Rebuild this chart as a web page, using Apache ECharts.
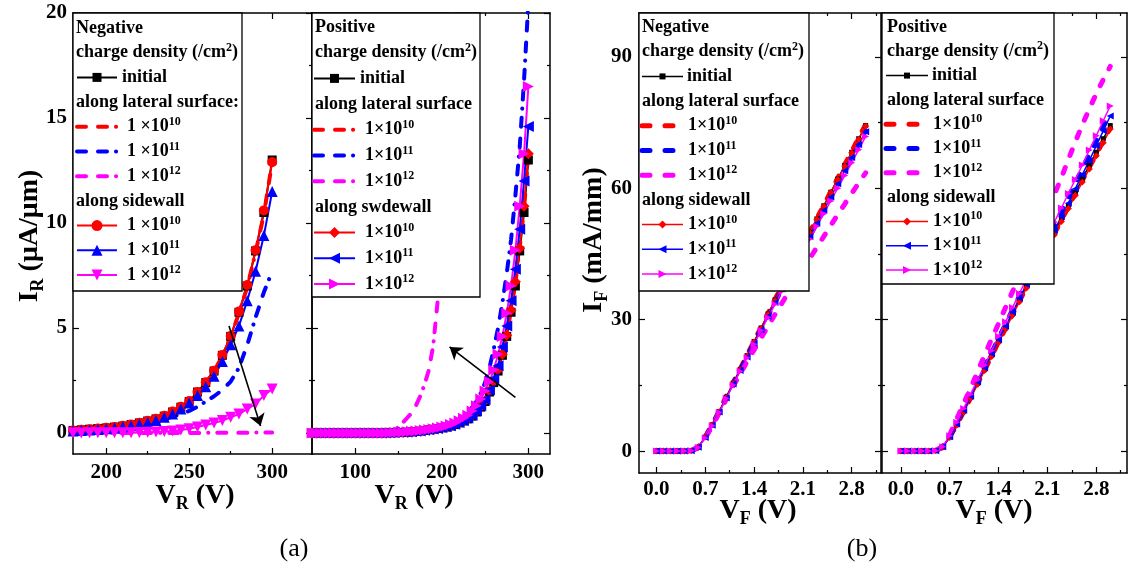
<!DOCTYPE html>
<html><head><meta charset="utf-8">
<script src="https://cdn.jsdelivr.net/npm/echarts@6/dist/echarts.min.js"></script>
<style>html,body{margin:0;padding:0;background:#fff}#c{width:1128px;height:571px}</style>
</head><body><div id="c"></div>
<script>
// ---------------- DATA ----------------
const vrNeg = [180,185,190,195,200,205,210,215,220,225,230,235,240,245,250,255,260,265,270,275,280,285,290,295,300];
const vrPos = [50,55,60,65,70,75,80,85,90,95,100,105,110,115,120,125,130,135,140,145,150,155,160,165,170,175,180,185,190,195,200,205,210,215,220,225,230,235,240,245,250,255,260,265,270,275,280,285,290,295,300];
const vf = [0,0.1,0.2,0.3,0.4,0.5,0.6,0.7,0.8,0.9,1.0,1.1,1.2,1.3,1.4,1.5,1.6,1.7,1.8,1.9,2.0,2.1,2.2,2.3,2.4,2.5,2.6,2.7,2.8,2.9,3.0];

// (a) negative charge, reverse
const aNegInit   = [0.12,0.15,0.18,0.21,0.24,0.28,0.33,0.40,0.48,0.57,0.67,0.80,1.00,1.23,1.50,1.95,2.40,2.95,3.70,4.60,5.75,7.00,8.67,10.5,13.0];
const aNegLat10  = [0.12,0.15,0.18,0.21,0.24,0.28,0.33,0.40,0.48,0.57,0.67,0.80,1.00,1.22,1.49,1.93,2.38,2.93,3.67,4.57,5.70,6.95,8.60,10.4,12.9];
const aNegLat11  = [0.08,0.10,0.12,0.14,0.17,0.20,0.25,0.30,0.36,0.45,0.55,0.65,0.78,0.90,1.05,1.25,1.50,1.75,2.05,2.45,3.10,4.20,5.50,6.70,7.70];
const aNegLat12  = [0,0,0,0,0,0,0,0,0,0,0,0,0,0,0,0,0.01,0.01,0.01,0.01,0.01,0.01,0.02,0.02,0.02];
const aNegSide10 = [0.12,0.15,0.18,0.21,0.25,0.29,0.34,0.41,0.49,0.58,0.68,0.82,1.02,1.25,1.52,1.95,2.42,2.97,3.72,4.62,5.78,7.05,8.70,10.6,12.9];
const aNegSide11 = [0.10,0.12,0.14,0.17,0.20,0.24,0.30,0.35,0.42,0.50,0.60,0.75,0.90,1.14,1.43,1.78,2.20,2.70,3.40,4.20,5.10,6.30,7.70,9.40,11.5];
const aNegSide12 = [0.00,0.00,0.01,0.01,0.01,0.01,0.01,0.01,0.02,0.03,0.05,0.07,0.10,0.14,0.20,0.29,0.38,0.48,0.59,0.75,0.90,1.14,1.38,1.78,2.10];

// (a) positive charge, reverse
const aPosInit   = [0,0,0,0,0,0,0,0,0,0, 0,0,0,0,0,0,0,0,0.01,0.01, 0.02,0.03,0.04,0.05,0.07,0.09, 0.12,0.15,0.18,0.21,0.24,0.28,0.33,0.40,0.48,0.57,0.67,0.80,1.00,1.23,1.50,1.95,2.40,2.95,3.70,4.60,5.75,7.00,8.67,10.5,13.0];
const aPosLat10  = [0,0,0,0,0,0,0,0,0,0, 0,0,0,0,0,0,0,0,0.01,0.01, 0.02,0.03,0.04,0.06,0.08,0.10, 0.13,0.16,0.19,0.22,0.26,0.30,0.35,0.42,0.50,0.60,0.71,0.85,1.05,1.30,1.60,2.02,2.50,3.05,3.80,4.70,5.85,7.15,8.80,10.7,13.2];
const aPosLat11  = [0,0,0,0,0,0,0,0,0,0, 0,0,0,0,0,0,0,0,0,0, 0,0.05,0.07,0.09,0.12,0.15, 0.18,0.20,0.23,0.27,0.30,0.37,0.45,0.55,0.65,0.80,1.00,1.22,1.50,1.90,2.40,3.10,4.00,5.00,6.20,7.60,9.20,11.3,13.6,16.8,20.5];
const aPosLat12  = [0,0,0,0,0,0,0,0,0,0, 0,0,0,0,0,0,0,0,0,0.08, 0.30,0.50,0.72,0.95,1.30,1.75, 2.30,3.00,4.15,6.20,9.50,13.5,18.0,23.0];
const aPosSide10 = [0,0,0,0,0,0,0,0,0,0, 0,0,0,0,0,0,0,0,0.01,0.01, 0.02,0.03,0.04,0.05,0.07,0.09, 0.12,0.15,0.18,0.21,0.24,0.28,0.33,0.40,0.48,0.57,0.68,0.82,1.02,1.26,1.55,2.00,2.45,3.00,3.75,4.65,5.85,7.20,8.80,10.8,13.3];
const aPosSide11 = [0,0,0,0,0,0,0,0,0,0, 0,0,0,0,0,0,0,0,0.01,0.02, 0.03,0.04,0.05,0.06,0.08,0.10, 0.13,0.16,0.19,0.22,0.26,0.30,0.35,0.42,0.50,0.60,0.71,0.85,1.05,1.30,1.60,2.05,2.60,3.20,4.10,5.10,6.30,7.80,9.70,12.0,14.6];
const aPosSide12 = [0,0,0,0,0,0,0,0,0,0, 0,0,0,0,0,0,0,0,0.01,0.02, 0.03,0.04,0.06,0.08,0.10,0.12, 0.14,0.17,0.20,0.24,0.28,0.33,0.40,0.48,0.58,0.70,0.85,1.05,1.30,1.62,2.00,2.45,3.00,3.75,4.60,5.70,7.00,8.70,10.8,13.3,16.5];

// (b) negative charge, forward
const bNegInit   = [0,0,0,0,0,0.1,0.9,3.2,6.0,9.0,12.3,15.5,18.6,21.8,25.0,28.1,31.3,34.5,37.6,40.7,43.8,46.8,49.9,53.0,56.0,59.1,62.1,65.2,68.2,71.3,74.3];
const bNegLat10  = [0,0,0,0,0,0.1,0.9,3.2,6.1,9.1,12.4,15.6,18.7,21.9,25.1,28.2,31.4,34.6,37.7,40.8,43.9,46.9,50.0,53.1,56.1,59.2,62.3,65.4,68.4,71.5,74.5];
const bNegLat11  = [0,0,0,0,0,0.1,0.8,3.1,5.9,8.9,12.1,15.3,18.4,21.5,24.7,27.8,30.9,34.0,37.1,40.1,43.1,46.1,49.1,52.1,55.1,58.1,61.1,64.1,67.1,70.1,73.1];
const bNegLat12  = [0,0,0,0,0,0.1,0.8,3.0,5.7,8.7,11.8,14.8,17.6,20.4,23.1,25.8,28.5,31.2,33.8,36.4,39.0,41.5,44.0,46.5,49.0,51.5,54.0,56.4,58.8,61.2,63.5];
const bNegSide10 = [0,0,0,0,0,0.1,0.9,3.2,6.0,9.0,12.2,15.4,18.5,21.7,24.9,28.0,31.2,34.4,37.5,40.6,43.7,46.7,49.8,52.9,55.9,59.0,62.0,65.1,68.1,71.2,74.2];
const bNegSide11 = [0,0,0,0,0,0.1,0.9,3.1,5.9,8.9,12.1,15.3,18.4,21.5,24.6,27.7,30.8,33.9,37.0,40.0,43.0,46.0,49.0,52.0,55.0,58.0,61.0,64.0,67.0,70.0,72.9];
const bNegSide12 = [0,0,0,0,0,0.1,0.8,3.0,5.8,8.8,12.0,15.1,18.2,21.3,24.4,27.5,30.5,33.5,36.5,39.5,42.5,45.5,48.4,51.3,54.2,57.1,60.0,62.9,65.8,68.8,71.8];

// (b) positive charge, forward
const bPosInit   = [0,0,0,0,0,0.1,0.9,3.2,6.0,9.0,12.3,15.5,18.6,21.8,25.0,28.1,31.3,34.5,37.6,40.7,43.8,46.8,49.9,53.0,56.0,59.1,62.1,65.2,68.2,71.3,74.3];
const bPosLat10  = [0,0,0,0,0,0.1,0.9,3.2,6.0,9.0,12.2,15.4,18.5,21.7,24.9,28.0,31.2,34.3,37.4,40.5,43.6,46.6,49.7,52.7,55.8,58.8,61.8,64.8,67.8,70.8,73.8];
const bPosLat11  = [0,0,0,0,0,0.1,1.0,3.4,6.3,9.4,12.7,16.0,19.2,22.4,25.7,28.9,32.2,35.4,38.6,41.8,45.0,48.3,51.5,54.7,57.9,61.2,64.4,67.7,70.9,74.2,77.4];
const bPosLat12  = [0,0,0,0,0,0.1,1.0,3.7,7.3,10.9,14.3,18.2,21.9,25.6,29.1,32.8,36.4,40.1,43.8,47.4,51.2,54.9,58.6,62.4,66.6,70.6,74.5,78.1,81.6,84.8,87.8];
const bPosSide10 = [0,0,0,0,0,0.1,0.9,3.1,5.9,8.9,12.1,15.3,18.4,21.6,24.8,27.9,31.0,34.1,37.2,40.3,43.4,46.4,49.4,52.4,55.4,58.4,61.4,64.4,67.4,70.4,73.5];
const bPosSide11 = [0,0,0,0,0,0.1,1.0,3.3,6.2,9.3,12.5,15.8,19.0,22.2,25.4,28.5,31.7,34.9,38.0,41.1,44.2,47.3,50.4,53.5,56.6,59.9,63.1,66.3,69.7,73.1,76.5];
const bPosSide12 = [0,0,0,0,0,0.1,1.0,3.5,6.6,9.7,13.0,16.3,19.6,22.9,26.2,29.5,32.8,36.0,39.3,42.5,45.8,49.0,52.3,55.5,58.8,62.0,65.3,68.7,72.0,75.4,78.8];

// ticks
const aYTicks = [0,5,10,15,20], aYMinor = [2.5,7.5,12.5,17.5];
const a1XTicks = [200,250,300], a1XMinor = [225,275];
const a2XTicks = [100,200,300], a2XMinor = [150,250];
const bYTicks = [0,30,60,90], bYMinor = [15,45,75];
const bXTicks = [0,0.7,1.4,2.1,2.8], bXMinor = [0.35,1.05,1.75,2.45,3.15];

// arrows (data coordinates: from -> to)
const arrowA1 = [[274,5.1],[293,0.33]];
const arrowA2 = [[285,1.7],[209,4.1]];

// ---------------- STYLE / LAYOUT ----------------
const FONT = "'Times New Roman','Liberation Serif',serif";
const RED='#ff0000', BLUE='#0000ff', MAG='#ff00ff', BLK='#000000';
const grids = [
  {left:73, top:13, width:239, height:441},
  {left:312, top:13, width:238, height:441},
  {left:639, top:13, width:242, height:460},
  {left:882, top:13, width:245, height:460}
];
const ranges = [
  {xmin:180, xmax:324, ymin:-1, ymax:20, xt:a1XTicks, xm:a1XMinor, yt:aYTicks, ym:aYMinor, yLab:true, fmt:v=>String(v), xMargin:8, yMargin:6},
  {xmin:50, xmax:325, ymin:-1, ymax:20, xt:a2XTicks, xm:a2XMinor, yt:aYTicks, ym:aYMinor, yLab:false, fmt:v=>String(v), xMargin:8, yMargin:6},
  {xmin:-0.25, xmax:3.22, ymin:-5, ymax:100, xt:bXTicks, xm:bXMinor, yt:bYTicks, ym:bYMinor, yLab:true, fmt:v=>v.toFixed(1), xMargin:6, yMargin:7},
  {xmin:-0.27, xmax:3.24, ymin:-5, ymax:100, xt:bXTicks, xm:bXMinor, yt:bYTicks, ym:bYMinor, yLab:false, fmt:v=>v.toFixed(1), xMargin:6, yMargin:7}
];
const labelStyle = {color:'#000', fontFamily:FONT, fontWeight:'bold', fontSize:21};

function mkAxis(gi, pos, min, max, ticks, len, showLine, label, fmt, margin){
  return {
    type:'value', gridIndex:gi, position:pos, min:min, max:max, scale:false,
    axisLine:{show:showLine, onZero:false, lineStyle:{color:'#000', width:1.5}},
    axisTick:{show:true, inside:true, length:len, customValues:ticks, lineStyle:{color:'#000', width:1.2}},
    axisLabel: label ? Object.assign({show:true, customValues:ticks, formatter:fmt, margin:margin}, labelStyle) : {show:false},
    splitLine:{show:false}, minorTick:{show:false}, minorSplitLine:{show:false}
  };
}
const xAxes=[], yAxes=[];
ranges.forEach((r,gi)=>{
  xAxes.push(mkAxis(gi,'bottom',r.xmin,r.xmax,r.xt,6,true,true,r.fmt,r.xMargin));
  xAxes.push(mkAxis(gi,'bottom',r.xmin,r.xmax,r.xm,3,false,false));
  xAxes.push(mkAxis(gi,'top',r.xmin,r.xmax,r.xt,6,true,false));
  xAxes.push(mkAxis(gi,'top',r.xmin,r.xmax,r.xm,3,false,false));
  yAxes.push(mkAxis(gi,'left',r.ymin,r.ymax,r.yt,6,true,r.yLab,v=>String(v),r.yMargin));
  yAxes.push(mkAxis(gi,'left',r.ymin,r.ymax,r.ym,3,false,false));
  yAxes.push(mkAxis(gi,'right',r.ymin,r.ymax,r.yt,6,true,false));
  yAxes.push(mkAxis(gi,'right',r.ymin,r.ymax,r.ym,3,false,false));
});

function pairs(xs, ys){ return ys.map((y,i)=>[xs[i], y]); }
const DASH_A = [9,12,9,9,0.1,9];
const DASH_B = [6,13];
function ser(gi, xs, ys, color, o){
  o = o || {};
  const s = {
    type:'line', xAxisIndex:gi*4, yAxisIndex:gi*4, data:pairs(xs,ys),
    animation:false, silent:true, showAllSymbol:true, clip:true,
    symbol:o.symbol || 'none', symbolSize:o.size || 8, symbolRotate:o.rot || 0,
    itemStyle:{color:color, borderWidth:0},
    lineStyle:{color:color, width:o.width || 2, type:o.dash || 'solid', cap:o.dash ? 'round' : 'butt'}
  };
  if (o.markLine) s.markLine = o.markLine;
  return s;
}
function arrowML(a){
  return {silent:true, symbol:['none','arrow'], symbolSize:12, label:{show:false},
    itemStyle:{color:'#000'},
    lineStyle:{color:'#000', width:1.6, type:'solid'}, animation:false,
    data:[[{coord:a[0], symbol:'none'},{coord:a[1], symbol:'arrow', symbolSize:12}]]};
}

const series = [
  // panel a-left (negative)
  ser(0, vrNeg, aNegInit, BLK, {symbol:'rect', size:9, markLine:arrowML(arrowA1)}),
  ser(0, vrNeg, aNegLat10, RED, {dash:DASH_A, width:4}),
  ser(0, vrNeg, aNegLat11, BLUE, {dash:DASH_A, width:4}),
  ser(0, vrNeg, aNegLat12, MAG, {dash:DASH_A, width:4}),
  ser(0, vrNeg, aNegSide10, RED, {symbol:'circle', size:10}),
  ser(0, vrNeg, aNegSide11, BLUE, {symbol:'triangle', size:11}),
  ser(0, vrNeg, aNegSide12, MAG, {symbol:'triangle', size:11, rot:180}),
  // panel a-right (positive)
  ser(1, vrPos, aPosInit, BLK, {symbol:'rect', size:9, markLine:arrowML(arrowA2)}),
  ser(1, vrPos, aPosLat10, RED, {dash:DASH_A, width:4}),
  ser(1, vrPos, aPosLat11, BLUE, {dash:DASH_A, width:4}),
  ser(1, vrPos, aPosLat12, MAG, {dash:DASH_A, width:4}),
  ser(1, vrPos, aPosSide10, RED, {symbol:'diamond', size:11}),
  ser(1, vrPos, aPosSide11, BLUE, {symbol:'triangle', size:11, rot:90}),
  ser(1, vrPos, aPosSide12, MAG, {symbol:'triangle', size:11, rot:-90}),
  // panel b-left (negative)
  ser(2, vf, bNegInit, BLK, {symbol:'rect', size:5, width:1.5}),
  ser(2, vf, bNegLat10, RED, {dash:DASH_B, width:5}),
  ser(2, vf, bNegLat11, BLUE, {dash:DASH_B, width:5}),
  ser(2, vf, bNegLat12, MAG, {dash:DASH_B, width:5}),
  ser(2, vf, bNegSide10, RED, {symbol:'diamond', size:7, width:1.5}),
  ser(2, vf, bNegSide11, BLUE, {symbol:'triangle', size:7, rot:90, width:1.5}),
  ser(2, vf, bNegSide12, MAG, {symbol:'triangle', size:7, rot:-90, width:1.5}),
  // panel b-right (positive)
  ser(3, vf, bPosInit, BLK, {symbol:'rect', size:5, width:1.5}),
  ser(3, vf, bPosLat10, RED, {dash:DASH_B, width:5}),
  ser(3, vf, bPosLat11, BLUE, {dash:DASH_B, width:5}),
  ser(3, vf, bPosLat12, MAG, {dash:DASH_B, width:5}),
  ser(3, vf, bPosSide10, RED, {symbol:'diamond', size:7, width:1.5}),
  ser(3, vf, bPosSide11, BLUE, {symbol:'triangle', size:7, rot:90, width:1.5}),
  ser(3, vf, bPosSide12, MAG, {symbol:'triangle', size:7, rot:-90, width:1.5})
];

// ---------------- LEGENDS (graphic) ----------------
const LFS = 18;
const rich = {
  t:{fontFamily:FONT, fontWeight:'bold', fontSize:LFS, lineHeight:22, fill:'#000', color:'#000'},
  s:{fontFamily:FONT, fontWeight:'bold', fontSize:12, lineHeight:12, verticalAlign:'top', fill:'#000', color:'#000'}
};
function marker(kind, cx, cy, s, color){
  const h=s/2; let pts;
  if (kind==='rect') return {type:'rect', shape:{x:cx-h,y:cy-h,width:s,height:s}, style:{fill:color}, z:103};
  if (kind==='circle') return {type:'circle', shape:{cx:cx,cy:cy,r:h}, style:{fill:color}, z:103};
  if (kind==='diamond') pts=[[cx,cy-h],[cx+h,cy],[cx,cy+h],[cx-h,cy]];
  if (kind==='up') pts=[[cx,cy-h],[cx+h,cy+h],[cx-h,cy+h]];
  if (kind==='down') pts=[[cx,cy+h],[cx+h,cy-h],[cx-h,cy-h]];
  if (kind==='left') pts=[[cx-h,cy],[cx+h,cy-h],[cx+h,cy+h]];
  if (kind==='right') pts=[[cx+h,cy],[cx-h,cy-h],[cx-h,cy+h]];
  return {type:'polygon', shape:{points:pts}, style:{fill:color}, z:103};
}
function legend(cfg){
  const els=[{type:'rect', shape:{x:cfg.x,y:cfg.y,width:cfg.w,height:cfg.h}, style:{fill:'#fff', stroke:'#000', lineWidth:1.3}, z:100}];
  cfg.rows.forEach((r,i)=>{
    const y = cfg.y0 + i*cfg.step;
    if (r.head){
      els.push({type:'text', x:cfg.tx, y:y, z:102, style:{text:r.head, rich:rich, align:'left', verticalAlign:'middle'}});
    } else {
      const ls = {stroke:r.color, lineWidth:r.lw, lineCap:r.dash?'round':'butt'};
      if (r.dash) ls.lineDash = r.dash;
      els.push({type:'line', shape:{x1:cfg.sx0,y1:y,x2:cfg.sx1,y2:y}, style:ls, z:101});
      if (r.mk) els.push(marker(r.mk, (cfg.sx0+cfg.sx1)/2, y, r.ms, r.color));
      els.push({type:'text', x:(r.item==='initial'?cfg.ix0:cfg.ix), y:y, z:102, style:{text:r.text, rich:rich, align:'left', verticalAlign:'middle'}});
    }
  });
  return els;
}
const sup = (a,b)=>'{t|'+a+'}{s|'+b+'}';
function rowsFor(title, lat, side, sp, dash, lwd, lws, mks, ms){
  return [
    {head:'{t|'+title+'}'},
    {head:'{t|charge density (/cm}{s|2}{t|)}'},
    {item:'initial', text:'{t|initial}', color:BLK, lw:lws, mk:'rect', ms:ms[0]},
    {head:'{t|'+lat+'}'},
    {item:'x', text:sup(sp,'10'), color:RED, lw:lwd, dash:dash},
    {item:'x', text:sup(sp,'11'), color:BLUE, lw:lwd, dash:dash},
    {item:'x', text:sup(sp,'12'), color:MAG, lw:lwd, dash:dash},
    {head:'{t|'+side+'}'},
    {item:'x', text:sup(sp,'10'), color:RED, lw:lws, mk:mks[0], ms:ms[1]},
    {item:'x', text:sup(sp,'11'), color:BLUE, lw:lws, mk:mks[1], ms:ms[1]},
    {item:'x', text:sup(sp,'12'), color:MAG, lw:lws, mk:mks[2], ms:ms[1]}
  ];
}
const LD_A=[9,12,9,9,0.1,9], LD_B=[8,15];
const legendEls = [].concat(
  legend({x:73,y:13,w:169,h:278, tx:76, sx0:77, sx1:117, ix0:122, ix:127, y0:28, step:24.7,
    rows:rowsFor('Negative','along lateral surface:','along sidewall','1 ×10',LD_A,4,2,['circle','up','down'],[9,11])}),
  legend({x:312,y:13,w:168,h:284, tx:315, sx0:314, sx1:355, ix0:360, ix:365, y0:27, step:25.7,
    rows:rowsFor('Positive','along lateral surface','along swdewall','1×10',LD_A,4,2,['diamond','left','right'],[9,11])}),
  legend({x:639,y:13,w:170,h:278, tx:642, sx0:642, sx1:683, ix0:687, ix:688, y0:27, step:24.7,
    rows:rowsFor('Negative','along lateral surface','along sidewall','1×10',LD_B,5,1.5,['diamond','left','right'],[6,8])}),
  legend({x:882,y:13,w:172,h:271, tx:887, sx0:886, sx1:928, ix0:932, ix:933, y0:27, step:24.3,
    rows:rowsFor('Positive','along lateral surface','along sidewall','1×10',LD_B,5,1.5,['diamond','left','right'],[6,8])})
);

// ---------------- TITLES ----------------
const trich = {
  b:{fontFamily:FONT, fontWeight:'bold', fontSize:28, lineHeight:34, fill:'#000'},
  u:{fontFamily:FONT, fontWeight:'bold', fontSize:18, lineHeight:18, verticalAlign:'bottom', fill:'#000'}
};
function title(x,y,text,rot){
  return {type:'text', x:x, y:y, rotation:rot||0, z:50, style:{text:text, rich:trich, align:'center', verticalAlign:'middle'}};
}
const titleEls = [
  title(30,236,'{b|I}{u|R}{b| (μA/μm)}',Math.PI/2),
  title(195,496,'{b|V}{u|R}{b| (V)}'),
  title(414,496,'{b|V}{u|R}{b| (V)}'),
  title(594,240,'{b|I}{u|F}{b| (mA/mm)}',Math.PI/2),
  title(758,511,'{b|V}{u|F}{b| (V)}'),
  title(994,511,'{b|V}{u|F}{b| (V)}'),
  {type:'text', x:294, y:549, z:50, style:{text:'(a)', font:'26px '+FONT, fill:'#000', align:'center', verticalAlign:'middle'}},
  {type:'text', x:862, y:549, z:50, style:{text:'(b)', font:'26px '+FONT, fill:'#000', align:'center', verticalAlign:'middle'}}
];

const chart = echarts.init(document.getElementById('c'), null, {renderer:'canvas'});
chart.setOption({
  backgroundColor:'#ffffff',
  animation:false,
  grid: grids.map(g=>Object.assign({containLabel:false, outerBoundsMode:'none'}, g)),
  xAxis: xAxes,
  yAxis: yAxes,
  series: series,
  graphic: {elements: legendEls.concat(titleEls)}
});
</script>
</body></html>
